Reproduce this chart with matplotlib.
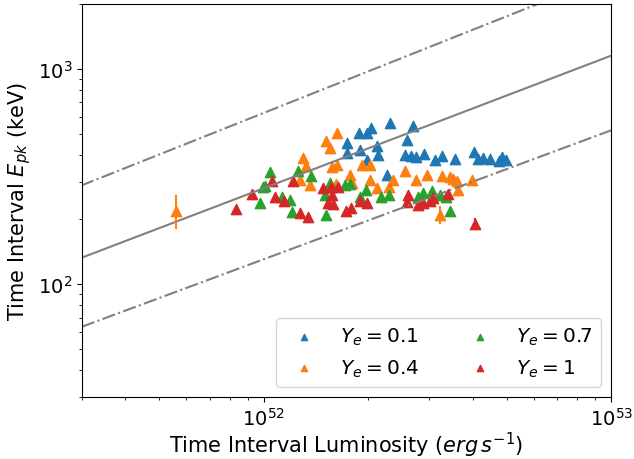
# Ep - L relation for different Ye

# Import
import numpy as np
import matplotlib
matplotlib.use("Agg")
import matplotlib.pyplot as plt

# Data (luminosity in units of 1e52 erg/s, Ep in keV)
L_01 = [2.041, 1.885, 1.99, 1.741, 1.741, 2.124, 1.897, 1.987, 2.138, 2.269,
        2.315, 2.697, 2.592, 2.558, 2.661, 2.751, 2.901, 3.121, 3.269, 3.564,
        4.043, 4.152, 4.292, 4.467, 4.868, 4.998, 4.742]
Ep_01 = [533, 505, 502, 454, 405, 439, 421, 378, 399, 322,
         562, 544, 468, 399, 395, 391, 403, 378, 395, 382,
         412, 382, 387, 382, 391, 378, 374]

L_04 = [0.560, 1.629, 1.514, 1.555, 1.300, 1.326, 1.576, 1.629, 1.922, 2.027,
        1.776, 1.799, 2.027, 2.124, 1.361, 1.274, 1.618, 2.299, 2.361, 2.558,
        2.751, 2.960, 3.269, 3.447, 3.517, 3.612, 3.636, 3.990, 3.226]
Ep_04 = [219.5, 505, 463, 430, 387, 355, 351, 359, 359, 359,
         322, 296, 306, 281, 290, 306, 293, 284, 306, 337,
         306, 323, 319, 316, 309, 302, 275, 306, 210]
err_04 = [39, 0, 0, 0, 0, 0, 0, 0, 0, 0,
          0, 0, 0, 0, 0, 0, 0, 0, 0, 0,
          0, 0, 0, 0, 0, 0, 0, 0, 20]

L_07 = [0.977, 0.997, 1.010, 1.044, 1.257, 1.370, 1.131, 1.192, 1.208, 1.514,
        1.555, 1.718, 1.776, 1.504, 1.974, 1.897, 2.181, 2.299, 2.787, 2.882,
        3.060, 3.226, 3.357, 3.447]
Ep_07 = [239, 284, 287, 333, 336.5, 319, 255, 247, 217, 210,
         296, 290, 293, 260, 275, 255, 255, 260, 255, 266,
         272, 260, 255, 220]

L_1 = [0.833, 0.927, 1.058, 1.079, 1.146, 1.216, 1.274, 1.343, 1.484, 1.565,
       1.640, 1.576, 1.534, 1.586, 1.729, 1.787, 1.897, 1.987, 2.609, 2.592,
       2.787, 2.882, 3.019, 3.080, 3.402, 4.070]
Ep_1 = [224, 263, 302, 255, 244, 302, 215, 206, 281, 284,
        284, 260, 239, 236.5, 219.5, 226, 244, 239, 260, 242,
        234, 239, 244, 252, 263, 191]
err_1 = [0] * 25 + [13]

# Relation: Ep = norm * (L / 1e52)^slope  (best fit and the two bounds)
norm_mid, slope_mid = 279, 0.616
norm_hi, slope_hi = 624, 0.642
norm_lo, slope_lo = 130.6, 0.599

plt.rcParams["font.size"] = 14

fig = plt.figure(figsize = (6.34, 4.6), dpi = 100)
ax = fig.add_axes([0.129, 0.135, 0.835, 0.854])

L_line = np.logspace(51, 54, 200)
x = L_line / 1e52
ax.plot(L_line, norm_mid * x ** slope_mid, color = "grey", lw = 1.5)
ax.plot(L_line, norm_hi * x ** slope_hi, color = "grey", lw = 1.5, linestyle = "-.")
ax.plot(L_line, norm_lo * x ** slope_lo, color = "grey", lw = 1.5, linestyle = "-.")

series = [
    (L_01, Ep_01, None, "C0", r"$Y_e = 0.1$"),
    (L_04, Ep_04, err_04, "C1", r"$Y_e = 0.4$"),
    (L_07, Ep_07, None, "C2", r"$Y_e = 0.7$"),
    (L_1, Ep_1, err_1, "C3", r"$Y_e = 1$"),
]
for L, Ep, err, col, lab in series:
    L = np.array(L) * 1e52
    if err is not None:
        ax.errorbar(L, Ep, yerr = err, fmt = "none", ecolor = col, elinewidth = 1.5)
    ax.scatter(L, Ep, marker = "^", s = 55, color = col, label = lab)

ax.set_xscale("log")
ax.set_yscale("log")
ax.set_xlim(3e51, 1e53)
ax.set_ylim(30, 2000)

ax.set_xlabel(r"Time Interval Luminosity ($erg\,s^{-1}$)", fontsize = 15, labelpad = 1)
ax.set_ylabel(r"Time Interval $E_{pk}$ (keV)", fontsize = 15, labelpad = 3)

ax.legend(loc = "lower right", ncol = 2, markerscale = 0.6, fontsize = 14.5)

fig.savefig("out.png", dpi = 100)
